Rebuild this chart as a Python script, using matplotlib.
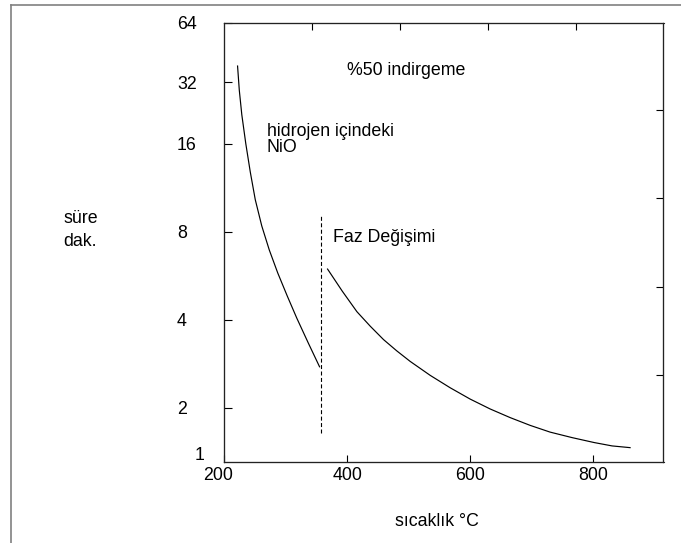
import matplotlib
matplotlib.use('Agg')
import matplotlib.pyplot as plt
from matplotlib.lines import Line2D
from matplotlib.transforms import ScaledTranslation

plt.rcParams['font.family'] = ['Liberation Sans', 'DejaVu Sans']
plt.rcParams['font.size'] = 12.8

# NiO in hydrogen, 50% reduction
temp_low = [221.6, 224.4, 228.5, 235.0, 242.3, 250.4, 261.0, 273.2, 287.0, 302.5, 318.0, 336.7, 355.1]
time_low = [29.5, 24.4, 20.1, 16.0, 12.8, 10.3, 8.37, 6.93, 5.78, 4.82, 4.05, 3.33, 2.76]

temp_high = [368.1, 392.0, 415.9, 437.6, 459.2, 480.7, 502.6, 535.2, 567.7, 600.3,
             632.8, 665.3, 697.9, 730.4, 766.2, 802.0, 831.3, 860.6]
time_high = [5.96, 5.01, 4.26, 3.80, 3.42, 3.13, 2.88, 2.58, 2.34, 2.14,
             1.98, 1.85, 1.74, 1.65, 1.58, 1.52, 1.48, 1.46]

# phase change marker
phase_T = 358
phase_lo, phase_hi = 1.64, 9.18

xlim = (200, 915)
ylim = (1.307, 41.5)
x_ticks = [200, 400, 600, 800]
x_labels = ['200', '400', '600', '800']
y_ticks = [2, 4, 8, 16, 26, 41.5]
y_labels = ['2', '4', '8', '16', '32', '64']
top_ticks = [343, 486, 630, 773]
right_ticks = [2.59, 5.19, 10.4, 20.8]

W, H = 681, 543
fig = plt.figure(figsize=(W / 100, H / 100), dpi=100)
ax = fig.add_axes([224.3 / W, 1 - 461.7 / H, 439.2 / W, 439.0 / H])

ax.plot(temp_low, time_low, color='black', lw=0.85)
ax.plot(temp_high, time_high, color='black', lw=0.85)
ax.vlines(phase_T, phase_lo, phase_hi, colors='black', lw=0.8, linestyles=(0, (3.6, 2.2)))

ax.set_yscale('log', base=2)
ax.set_xlim(*xlim)
ax.set_ylim(*ylim)
ax.minorticks_off()
ax.set_xticks(x_ticks, x_labels)
ax.set_yticks(y_ticks, y_labels, ha='left')
ax.tick_params(axis='x', direction='in', length=4.8, width=0.8, pad=3.5)
ax.tick_params(axis='y', direction='in', length=5.8, width=0.8, pad=34)

# the "200" label sits a little left of the corner
lab200 = ax.get_xticklabels()[0]
lab200.set_transform(lab200.get_transform() + ScaledTranslation(-0.06, 0, fig.dpi_scale_trans))

# extra ticks on top and right
axr = ax.twinx()
axr.set_yscale('log', base=2)
axr.set_ylim(*ylim)
axr.minorticks_off()
axr.set_yticks(right_ticks, [''] * len(right_ticks))
axr.tick_params(axis='y', direction='in', length=4.8, width=0.8)

axt = ax.twiny()
axt.set_xlim(*xlim)
axt.set_xticks(top_ticks, [''] * len(top_ticks))
axt.tick_params(axis='x', direction='in', length=4.8, width=0.8)

for a in (ax, axr, axt):
    for s in a.spines.values():
        s.set_linewidth(0.8)
        s.set_color('#222222')

# "1" sits a bit off the regular tick label column
ax.annotate('1', xy=(0, 0), xycoords='axes fraction', xytext=(-21.5, 4.8),
            textcoords='offset points', va='center', ha='left')

def ftext(x, y, s):
    fig.text(x / W, 1 - y / H, s, ha='left', va='baseline')

ftext(347, 75, '%50 indirgeme')
ftext(267, 135.5, 'hidrojen içindeki')
ftext(267, 152.5, 'NiO')
ftext(333, 241.7, 'Faz Değişimi')
ftext(63, 223.3, 'süre')
ftext(63, 246, 'dak.')
ftext(395, 525.7, 'sıcaklık °C')

# outer frame (cropped on right and bottom)
fig.add_artist(Line2D([11 / W, 11 / W], [0, 1 - 5 / H], transform=fig.transFigure,
                      color='#808080', lw=1.2))
fig.add_artist(Line2D([11 / W, 1], [1 - 5 / H, 1 - 5 / H], transform=fig.transFigure,
                      color='#808080', lw=1.2))

fig.savefig('out.png', dpi=100)
